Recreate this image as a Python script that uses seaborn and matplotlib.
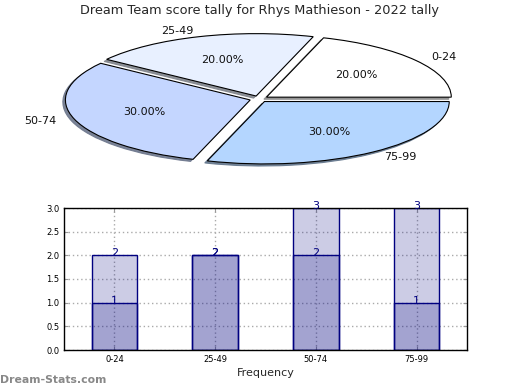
import matplotlib
matplotlib.use("Agg")
import matplotlib.pyplot as plt
import seaborn as sns
import pandas as pd

# ---- data ----
categories = ["0-24", "25-49", "50-74", "75-99"]
pie_shares = [20, 20, 30, 30]
pie_colors = ["#ffffff", "#e8f0ff", "#c4d6ff", "#b4d6ff"]
totals = [2, 2, 3, 3]
lower = [1, 2, 2, 1]
title = "Dream Team score tally for Rhys Mathieson - 2022 tally"

sns.set_style("white")
plt.rcParams["font.family"] = ["DejaVu Sans"]

fig = plt.figure(figsize=(5.2, 3.9), dpi=100)

# ---- pie (squashed to look tilted) ----
W, H = 520.0, 390.0
pw, ph = 462.0, 156.0
cx, cy = 259.0, 291.0
ax_pie = fig.add_axes([(cx - pw / 2) / W, (cy - ph / 2) / H, pw / W, ph / H])
wedges, texts, autotexts = ax_pie.pie(
    pie_shares, labels=categories, colors=pie_colors, autopct="%.2f%%",
    startangle=0, explode=[0.05] * 4,
    shadow={"ox": -0.01, "oy": -0.024, "shade": 0.45, "alpha": 0.9},
    wedgeprops=dict(edgecolor="black", linewidth=0.8),
    textprops=dict(fontsize=8, color="#111111"),
)
ax_pie.set_aspect("auto")
ax_pie.set_xlim(-1.25, 1.25)
ax_pie.set_ylim(-1.25, 1.25)
fig.text(0.5, 0.973, title, ha="center", va="center", fontsize=9.3)

# ---- bars ----
ax = fig.add_axes([64 / W, 40 / H, 403 / W, 142 / H])
df_tot = pd.DataFrame({"cat": categories, "val": totals})
df_low = pd.DataFrame({"cat": categories, "val": lower})
sns.barplot(data=df_tot, x="cat", y="val", ax=ax, color="navy", saturation=1,
            width=0.45, errorbar=None)
sns.barplot(data=df_low, x="cat", y="val", ax=ax, color="navy", saturation=1,
            width=0.45, errorbar=None)
for p in ax.patches:
    p.set_facecolor((0, 0, 0.5, 0.2))
    p.set_edgecolor("navy")
    p.set_linewidth(1.0)

for i, (t, l) in enumerate(zip(totals, lower)):
    for v in (t, l):
        ax.annotate(str(v), (i, v), xytext=(0, 1.5), textcoords="offset points",
                    ha="center", va="center", fontsize=8, color="navy")

ax.set_xlim(-0.5, 3.5)
ax.set_ylim(0, 3.0)
ax.set_yticks([0, 0.5, 1.0, 1.5, 2.0, 2.5, 3.0])
ax.set_yticklabels(["0.0", "0.5", "1.0", "1.5", "2.0", "2.5", "3.0"])
ax.tick_params(axis="both", labelsize=6, direction="in", length=3,
               top=True, right=True, bottom=True, left=True, colors="#999999",
               labelcolor="black")
ax.grid(True, linestyle=(0, (1, 2)), color="#aaaaaa", linewidth=1)
ax.set_axisbelow(True)
for s in ax.spines.values():
    s.set_color("black")
    s.set_linewidth(1)
ax.set_xlabel("Frequency", fontsize=8, labelpad=3)
ax.set_ylabel("")

fig.text(0.0, 0.025, "Dream-Stats.com", ha="left", va="center", fontsize=7.8,
         color="#888888", fontweight="semibold")

fig.savefig("out.png", dpi=100)
